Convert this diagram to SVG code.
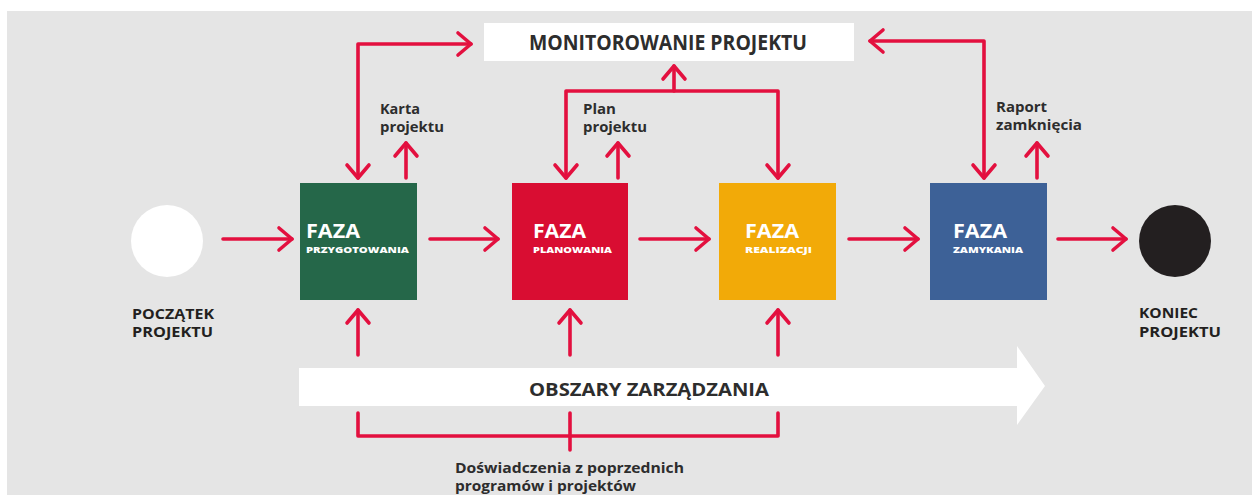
<svg xmlns="http://www.w3.org/2000/svg" width="1252" height="495" viewBox="0 0 1252 495">
<defs>
<style>
.t{font-family:"Open Sans","Liberation Sans",sans-serif;font-weight:700;fill:#2d2d2d}
.w{font-family:"Open Sans","Liberation Sans",sans-serif;font-weight:700;fill:#ffffff}
.s{font-family:"Open Sans","Liberation Sans",sans-serif;font-weight:800;fill:#ffffff}
.c{fill:none;stroke:#e3103f;stroke-width:3.6;stroke-linecap:round;stroke-linejoin:round}
</style>
<marker id="a" markerUnits="userSpaceOnUse" markerWidth="30" markerHeight="30" viewBox="0 0 30 30" refX="17" refY="15" orient="auto-start-reverse">
<path d="M4,4 L17,15 L4,26" fill="none" stroke="#e3103f" stroke-width="3.6" stroke-linecap="round" stroke-linejoin="round"/>
</marker>
</defs>
<rect x="0" y="0" width="1252" height="495" fill="#ffffff"/>
<rect x="7" y="11" width="1245" height="484" fill="#e5e5e5"/>

<g id="monitoring">
<rect x="484" y="23" width="370" height="38" fill="#ffffff"/>
<text class="t" x="529" y="50" font-size="21" textLength="278" lengthAdjust="spacingAndGlyphs">MONITOROWANIE PROJEKTU</text>
</g>

<g id="start">
<circle cx="167" cy="241" r="36" fill="#ffffff"/>
<text class="t" x="132" y="319" font-size="15" textLength="82" lengthAdjust="spacingAndGlyphs" style="fill:#231f20">POCZĄTEK</text>
<text class="t" x="132" y="337" font-size="15" textLength="81" lengthAdjust="spacingAndGlyphs" style="fill:#231f20">PROJEKTU</text>
</g>

<g id="faza-przygotowania">
<rect x="300" y="183" width="117" height="117" fill="#256749"/>
<text class="w" x="306" y="238" font-size="20" textLength="54" lengthAdjust="spacingAndGlyphs">FAZA</text>
<text class="s" x="306" y="252.5" font-size="9.5" textLength="103" lengthAdjust="spacingAndGlyphs">PRZYGOTOWANIA</text>
</g>

<g id="faza-planowania">
<rect x="512" y="183" width="116" height="117" fill="#d90d32"/>
<text class="w" x="533" y="238" font-size="20" textLength="53" lengthAdjust="spacingAndGlyphs">FAZA</text>
<text class="s" x="533" y="252.5" font-size="9.5" textLength="79" lengthAdjust="spacingAndGlyphs">PLANOWANIA</text>
</g>

<g id="faza-realizacji">
<rect x="719" y="183" width="117" height="117" fill="#f2aa08"/>
<text class="w" x="745" y="238" font-size="20" textLength="54" lengthAdjust="spacingAndGlyphs">FAZA</text>
<text class="s" x="745" y="252.5" font-size="9.5" textLength="67" lengthAdjust="spacingAndGlyphs">REALIZACJI</text>
</g>

<g id="faza-zamykania">
<rect x="930" y="183" width="117" height="117" fill="#3d6197"/>
<text class="w" x="953" y="238" font-size="20" textLength="54" lengthAdjust="spacingAndGlyphs">FAZA</text>
<text class="s" x="953" y="252.5" font-size="9.5" textLength="70" lengthAdjust="spacingAndGlyphs">ZAMYKANIA</text>
</g>

<g id="end">
<circle cx="1175" cy="241" r="36" fill="#231f20"/>
<text class="t" x="1139" y="318" font-size="15" textLength="59" lengthAdjust="spacingAndGlyphs" style="fill:#231f20">KONIEC</text>
<text class="t" x="1139" y="337" font-size="15" textLength="82" lengthAdjust="spacingAndGlyphs" style="fill:#231f20">PROJEKTU</text>
</g>

<g id="obszary">
<polygon points="299,368 1017,368 1017,346 1045,386 1017,425 1017,406 299,406" fill="#ffffff"/>
<text class="t" x="529" y="396" font-size="18" textLength="240" lengthAdjust="spacingAndGlyphs">OBSZARY ZARZĄDZANIA</text>
</g>

<g id="labels">
<text class="t" x="380" y="114" font-size="14" textLength="40" lengthAdjust="spacingAndGlyphs">Karta</text>
<text class="t" x="380" y="132" font-size="14" textLength="64" lengthAdjust="spacingAndGlyphs">projektu</text>
<text class="t" x="583" y="114" font-size="14" textLength="33" lengthAdjust="spacingAndGlyphs">Plan</text>
<text class="t" x="583" y="132" font-size="14" textLength="64" lengthAdjust="spacingAndGlyphs">projektu</text>
<text class="t" x="996" y="112" font-size="14" textLength="51" lengthAdjust="spacingAndGlyphs">Raport</text>
<text class="t" x="996" y="130" font-size="14" textLength="86" lengthAdjust="spacingAndGlyphs">zamknięcia</text>
<text class="t" x="455" y="473" font-size="14" textLength="229" lengthAdjust="spacingAndGlyphs">Doświadczenia z poprzednich</text>
<text class="t" x="455" y="491" font-size="14" textLength="181" lengthAdjust="spacingAndGlyphs">programów i projektów</text>
</g>

<g id="connectors">
<path class="c" d="M223,239 H292" marker-end="url(#a)"/>
<path class="c" d="M430,239 H498" marker-end="url(#a)"/>
<path class="c" d="M640,239 H709" marker-end="url(#a)"/>
<path class="c" d="M849,239 H918" marker-end="url(#a)"/>
<path class="c" d="M1058,239 H1126" marker-end="url(#a)"/>
<path class="c" d="M358,178 V44 H471" marker-start="url(#a)" marker-end="url(#a)"/>
<path class="c" d="M406,178 V143" marker-end="url(#a)"/>
<path class="c" d="M566,178 V91 H778 V178" marker-start="url(#a)" marker-end="url(#a)"/>
<path class="c" d="M674,91 V66" marker-end="url(#a)"/>
<path class="c" d="M618,178 V143" marker-end="url(#a)"/>
<path class="c" d="M984,178 V41 H870" marker-start="url(#a)" marker-end="url(#a)"/>
<path class="c" d="M1037,178 V143" marker-end="url(#a)"/>
<path class="c" d="M358,355 V310" marker-end="url(#a)"/>
<path class="c" d="M570,355 V310" marker-end="url(#a)"/>
<path class="c" d="M778,355 V310" marker-end="url(#a)"/>
<path class="c" d="M358,413 V436 H778 V413"/>
<path class="c" d="M570,413 V450"/>
</g>
</svg>
